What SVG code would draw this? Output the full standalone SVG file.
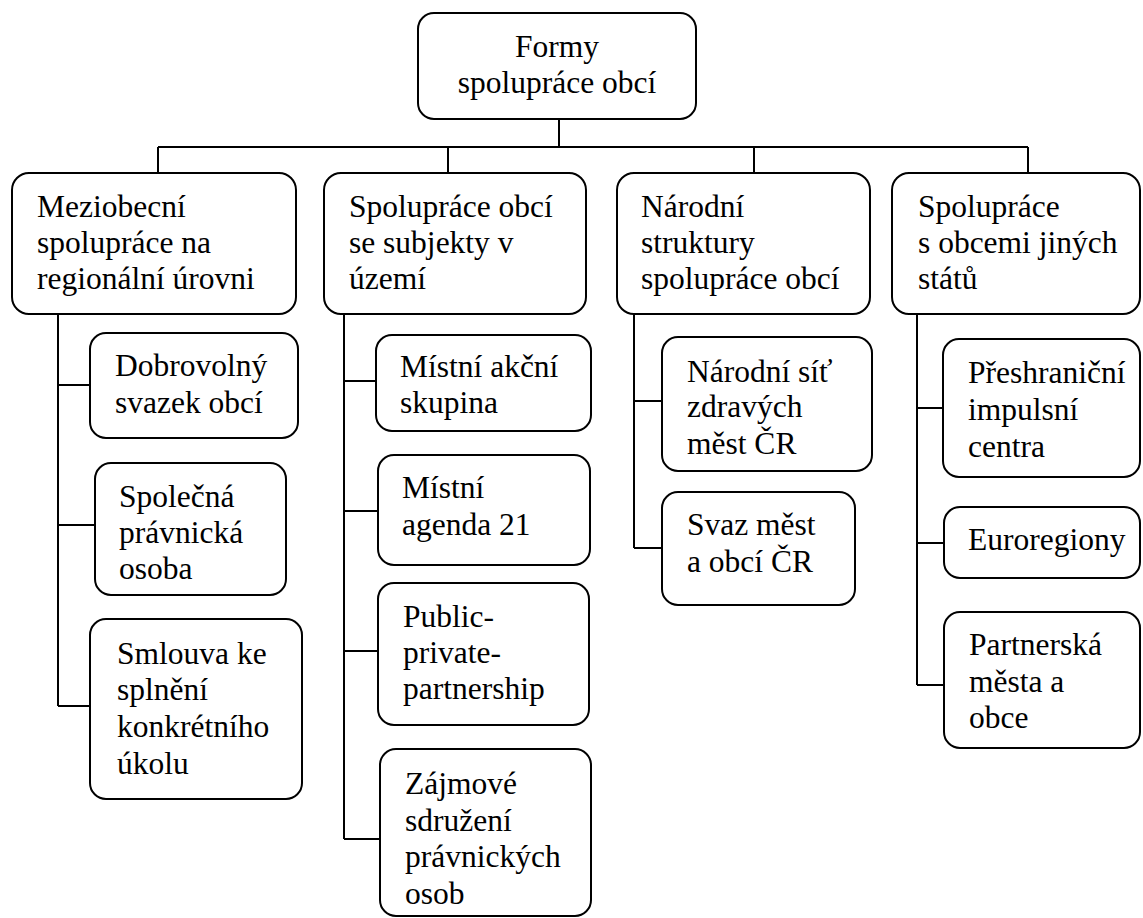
<svg xmlns="http://www.w3.org/2000/svg" width="1143" height="918" viewBox="0 0 1143 918">
<style>
.box{fill:#fff;stroke:#000;stroke-width:2}
.lbl{font-family:"Liberation Serif","Times New Roman",serif;font-size:31.5px;fill:#000}
.mid{text-anchor:middle}
.con{fill:none;stroke:#000;stroke-width:2}
</style>
<rect width="1143" height="918" fill="#fff"/>
<g id="connectors" class="con">
<path d="M559 119V147M158 147H1028M158 147V173M448 147V173M754 147V173M1028 147V173"/>
<path d="M58 314V706M58 385H90M58 525H95M58 706H90"/>
<path d="M344 314V839M344 381H376M344 511H378M344 651H378M344 839H380"/>
<path d="M634 314V548M634 401H662M634 548H662"/>
<path d="M917 314V685M917 408H943M917 543H944M917 685H944"/>
</g>
<g id="root">
<rect class="box" x="418" y="13" width="278" height="106" rx="16"/>
<text class="lbl mid" x="557" y="57">Formy</text>
<text class="lbl mid" x="557" y="93">spolupráce obcí</text>
</g>
<g id="n1">
<rect class="box" x="12" y="173" width="284" height="141" rx="17"/>
<text class="lbl" x="37" y="217">Meziobecní</text>
<text class="lbl" x="37" y="253">spolupráce na</text>
<text class="lbl" x="37" y="289">regionální úrovni</text>
</g>
<g id="n2">
<rect class="box" x="324" y="173" width="262" height="141" rx="17"/>
<text class="lbl" x="349" y="217">Spolupráce obcí</text>
<text class="lbl" x="349" y="253">se subjekty v</text>
<text class="lbl" x="349" y="289">území</text>
</g>
<g id="n3">
<rect class="box" x="617" y="173" width="253" height="141" rx="17"/>
<text class="lbl" x="641" y="217">Národní</text>
<text class="lbl" x="641" y="253">struktury</text>
<text class="lbl" x="641" y="289">spolupráce obcí</text>
</g>
<g id="n4">
<rect class="box" x="892" y="173" width="248" height="141" rx="17"/>
<text class="lbl" x="918" y="217">Spolupráce</text>
<text class="lbl" x="918" y="253">s obcemi jiných</text>
<text class="lbl" x="918" y="289">států</text>
</g>
<g id="n1a">
<rect class="box" x="90" y="333" width="208" height="105" rx="16"/>
<text class="lbl" x="115" y="376">Dobrovolný</text>
<text class="lbl" x="115" y="413">svazek obcí</text>
</g>
<g id="n1b">
<rect class="box" x="95" y="463" width="191" height="132" rx="16"/>
<text class="lbl" x="119" y="507">Společná</text>
<text class="lbl" x="119" y="543">právnická</text>
<text class="lbl" x="119" y="579">osoba</text>
</g>
<g id="n1c">
<rect class="box" x="90" y="619" width="212" height="180" rx="16"/>
<text class="lbl" x="117" y="664">Smlouva ke</text>
<text class="lbl" x="117" y="700">splnění</text>
<text class="lbl" x="117" y="737">konkrétního</text>
<text class="lbl" x="117" y="774">úkolu</text>
</g>
<g id="n2a">
<rect class="box" x="376" y="335" width="215" height="96" rx="16"/>
<text class="lbl" x="400" y="377">Místní akční</text>
<text class="lbl" x="400" y="413">skupina</text>
</g>
<g id="n2b">
<rect class="box" x="378" y="455" width="212" height="110" rx="16"/>
<text class="lbl" x="402" y="498">Místní</text>
<text class="lbl" x="402" y="535">agenda 21</text>
</g>
<g id="n2c">
<rect class="box" x="378" y="583" width="211" height="142" rx="16"/>
<text class="lbl" x="403" y="627">Public-</text>
<text class="lbl" x="403" y="663">private-</text>
<text class="lbl" x="403" y="699">partnership</text>
</g>
<g id="n2d">
<rect class="box" x="380" y="749" width="211" height="167" rx="16"/>
<text class="lbl" x="405" y="794">Zájmové</text>
<text class="lbl" x="405" y="831">sdružení</text>
<text class="lbl" x="405" y="867">právnických</text>
<text class="lbl" x="405" y="904">osob</text>
</g>
<g id="n3a">
<rect class="box" x="662" y="337" width="210" height="134" rx="16"/>
<text class="lbl" x="687" y="382">Národní síť</text>
<text class="lbl" x="687" y="417">zdravých</text>
<text class="lbl" x="687" y="454">měst ČR</text>
</g>
<g id="n3b">
<rect class="box" x="662" y="492" width="193" height="113" rx="16"/>
<text class="lbl" x="687" y="535">Svaz měst</text>
<text class="lbl" x="687" y="572">a obcí ČR</text>
</g>
<g id="n4a">
<rect class="box" x="943" y="339" width="197" height="138" rx="16"/>
<text class="lbl" x="968" y="383">Přeshraniční</text>
<text class="lbl" x="968" y="420">impulsní</text>
<text class="lbl" x="968" y="457">centra</text>
</g>
<g id="n4b">
<rect class="box" x="944" y="507" width="196" height="71" rx="16"/>
<text class="lbl" x="968" y="550">Euroregiony</text>
</g>
<g id="n4c">
<rect class="box" x="944" y="612" width="196" height="136" rx="16"/>
<text class="lbl" x="969" y="655">Partnerská</text>
<text class="lbl" x="969" y="692">města a</text>
<text class="lbl" x="969" y="728">obce</text>
</g>
</svg>
